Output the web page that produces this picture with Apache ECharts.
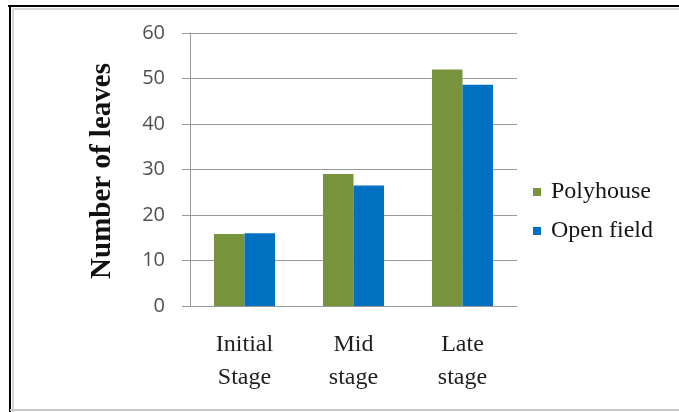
<!DOCTYPE html>
<html>
<head>
<meta charset="utf-8">
<script src="https://cdn.jsdelivr.net/npm/echarts@6/dist/echarts.min.js"></script>
<style>
  html, body { margin: 0; padding: 0; background: #fff; }
  #chart { width: 679px; height: 412px; }
</style>
</head>
<body>
<div id="chart"></div>
<script>
// Leaf counts per growth stage
var stages = ['Initial\nStage', 'Mid\nstage', 'Late\nstage'];
var polyhouse = [15.8, 29.0, 52.0];
var openField = [16.0, 26.5, 48.6];
var seriesNames = ['Polyhouse', 'Open field'];
var yTitle = 'Number of leaves';

var chart = echarts.init(document.getElementById('chart'), null, { renderer: 'canvas' });

var serif = '"Liberation Serif", "Times New Roman", serif';
var sans = '"Open Sans", "Liberation Sans", sans-serif';

chart.setOption({
  animation: false,
  backgroundColor: '#ffffff',
  grid: { left: 190, right: 162, top: 33, bottom: 106 },
  xAxis: {
    type: 'category',
    data: stages,
    axisLine: { show: true, lineStyle: { color: '#9a9a9a', width: 1 } },
    axisTick: { show: false },
    axisLabel: {
      fontFamily: serif,
      fontSize: 24,
      lineHeight: 33,
      color: '#1e1e1e',
      margin: 22
    }
  },
  yAxis: {
    type: 'value',
    min: 0,
    max: 60,
    interval: 10,
    axisLine: { show: true, lineStyle: { color: '#9a9a9a', width: 1 } },
    axisTick: { show: true, length: 8, inside: false, lineStyle: { color: '#9a9a9a' } },
    splitLine: { show: true, lineStyle: { color: '#9a9a9a', width: 1 } },
    axisLabel: {
      fontFamily: sans,
      fontSize: 20,
      color: '#505050',
      margin: 25
    }
  },
  legend: {
    orient: 'vertical',
    left: 533,
    top: 180,
    padding: 0,
    itemWidth: 8,
    itemHeight: 8,
    itemGap: 15,
    icon: 'rect',
    textStyle: {
      fontFamily: serif,
      fontSize: 24,
      color: '#151515',
      padding: [0, 0, 0, 5]
    },
    data: seriesNames
  },
  series: [
    {
      name: seriesNames[0],
      type: 'bar',
      data: polyhouse,
      barGap: '0%',
      barCategoryGap: '44%',
      itemStyle: { color: '#77933C' }
    },
    {
      name: seriesNames[1],
      type: 'bar',
      data: openField,
      barGap: '0%',
      barCategoryGap: '44%',
      itemStyle: { color: '#0070C0' }
    }
  ],
  graphic: [
    // outer frame
    { type: 'line', shape: { x1: 8, y1: 6, x2: 679, y2: 6 }, style: { stroke: '#000', lineWidth: 2 } },
    { type: 'line', shape: { x1: 10, y1: 5, x2: 10, y2: 412 }, style: { stroke: '#000', lineWidth: 2 } },
    { type: 'line', shape: { x1: 13, y1: 9, x2: 679, y2: 9 }, style: { stroke: '#d6d6d6', lineWidth: 2 } },
    { type: 'line', shape: { x1: 13, y1: 9, x2: 13, y2: 412 }, style: { stroke: '#d6d6d6', lineWidth: 2 } },
    { type: 'line', shape: { x1: 10, y1: 410, x2: 679, y2: 410 }, style: { stroke: '#c8c8c8', lineWidth: 2 } },
    // y-axis title
    {
      type: 'text',
      x: 103,
      y: 171,
      rotation: Math.PI / 2,
      style: {
        text: yTitle,
        fontFamily: serif,
        fontWeight: 'bold',
        fontSize: 29,
        fill: '#111111',
        textAlign: 'center',
        textVerticalAlign: 'middle'
      }
    }
  ]
});
</script>
</body>
</html>
